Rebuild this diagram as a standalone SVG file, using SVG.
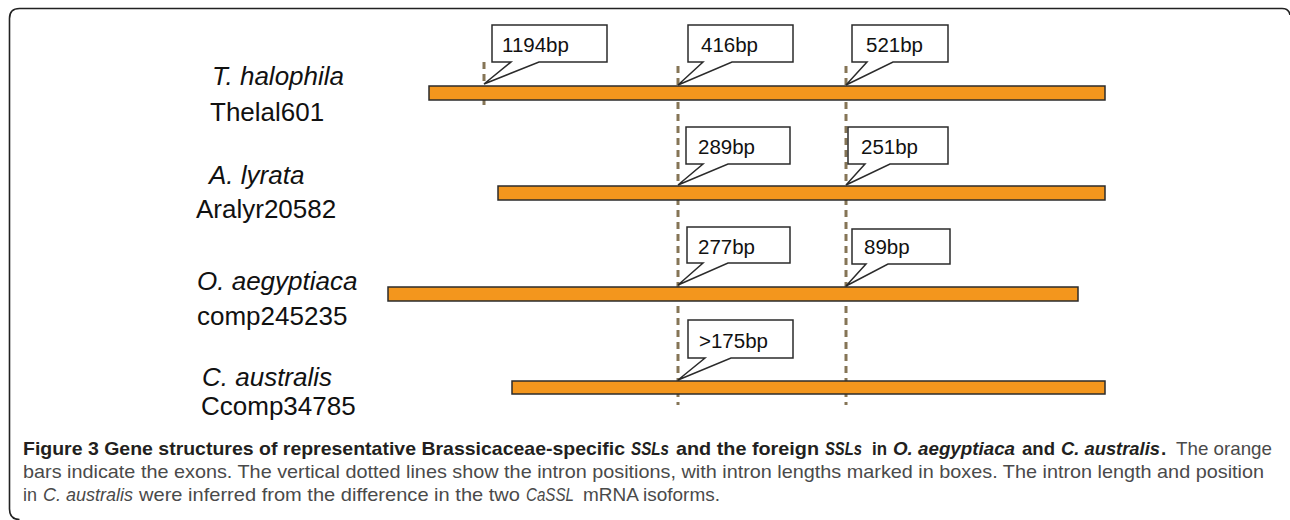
<svg xmlns="http://www.w3.org/2000/svg" width="1290" height="520" viewBox="0 0 1290 520">
<style>
.bar{fill:#F3961D;stroke:#2b2b2b;stroke-width:1.5}
.intron{stroke:#857556;stroke-width:3;stroke-dasharray:7 5;fill:none}
.call{fill:#fff;stroke:#2b2b2b;stroke-width:1.5;stroke-linejoin:miter}
.lbl{font-family:"Liberation Sans",Arial,sans-serif;font-size:20.5px;fill:#111}
.sp{font-family:"Liberation Sans",Arial,sans-serif;font-size:26px;fill:#111}
.it{font-style:italic}
.cap{font-family:"Liberation Sans",Arial,sans-serif;font-size:19px;fill:#4a4a4a}
.b{font-weight:bold;fill:#231f20}
</style>
<rect width="1290" height="520" fill="#fff"/>
<path d="M 1290 15 Q 1289 8.5 1282 8.5 L 19.5 8.5 Q 9.5 8.5 9.5 18.5 L 9.5 509 Q 9.5 519.5 19.5 519.5" fill="none" stroke="#222" stroke-width="1.6"/>

<g id="connectors">
<line class="intron" x1="484" y1="62" x2="484" y2="110"/>
<line class="intron" x1="678" y1="66" x2="678" y2="405"/>
<line class="intron" x1="846" y1="66" x2="846" y2="405"/>
</g>

<g id="row-thalophila">
<text class="sp it" x="212" y="85">T. halophila</text>
<text class="sp" x="210" y="121">Thelal601</text>
<rect class="bar" x="429" y="86" width="676" height="14"/>
</g>
<g id="row-alyrata">
<text class="sp it" x="209" y="184">A. lyrata</text>
<text class="sp" x="196" y="218">Aralyr20582</text>
<rect class="bar" x="498" y="186" width="607" height="14"/>
</g>
<g id="row-oaegyptiaca">
<text class="sp it" x="197" y="290">O. aegyptiaca</text>
<text class="sp" x="197" y="325">comp245235</text>
<rect class="bar" x="388" y="287" width="690" height="14"/>
</g>
<g id="row-caustralis">
<text class="sp it" x="202" y="386">C. australis</text>
<text class="sp" x="201" y="415">Ccomp34785</text>
<rect class="bar" x="512" y="381" width="593" height="13"/>
</g>

<g id="box-1194">
<path class="call" d="M 492 25 H 607 V 62 H 539 L 484 84 L 511 62 H 492 Z"/>
<text class="lbl" x="502" y="52">1194bp</text>
</g>
<g id="box-416">
<path class="call" d="M 688 25 H 793 V 62 H 732 L 678 85 L 703 62 H 688 Z"/>
<text class="lbl" x="701" y="52">416bp</text>
</g>
<g id="box-521">
<path class="call" d="M 852 25 H 948 V 62 H 893 L 846 85 L 867 62 H 852 Z"/>
<text class="lbl" x="866" y="52">521bp</text>
</g>
<g id="box-289">
<path class="call" d="M 686 127 H 790 V 164 H 728 L 678 185 L 703 164 H 686 Z"/>
<text class="lbl" x="698" y="154">289bp</text>
</g>
<g id="box-251">
<path class="call" d="M 848 127 H 948 V 164 H 890 L 846 185 L 865 164 H 848 Z"/>
<text class="lbl" x="861" y="154">251bp</text>
</g>
<g id="box-277">
<path class="call" d="M 687 227 H 790 V 263 H 728 L 678 285 L 703 263 H 687 Z"/>
<text class="lbl" x="698" y="254">277bp</text>
</g>
<g id="box-89">
<path class="call" d="M 852 229 H 950 V 264 H 888 L 846 286 L 866 264 H 852 Z"/>
<text class="lbl" x="864" y="254">89bp</text>
</g>
<g id="box-175">
<path class="call" d="M 688 320 H 793 V 358 H 731 L 678 380 L 705 358 H 688 Z"/>
<text class="lbl" x="699" y="348">&gt;175bp</text>
</g>

<g id="caption">
<text class="cap b" x="23" y="455" textLength="602" lengthAdjust="spacingAndGlyphs">Figure 3 Gene structures of representative Brassicaceae-specific</text>
<text class="cap b it" x="631" y="455" textLength="38" lengthAdjust="spacingAndGlyphs">SSLs</text>
<text class="cap b" x="676" y="455" textLength="143" lengthAdjust="spacingAndGlyphs">and the foreign</text>
<text class="cap b it" x="825" y="455" textLength="37" lengthAdjust="spacingAndGlyphs">SSLs</text>
<text class="cap b" x="872" y="455" textLength="15" lengthAdjust="spacingAndGlyphs">in</text>
<text class="cap b it" x="893" y="455" textLength="122" lengthAdjust="spacingAndGlyphs">O. aegyptiaca</text>
<text class="cap b" x="1022" y="455" textLength="33" lengthAdjust="spacingAndGlyphs">and</text>
<text class="cap b it" x="1061" y="455" textLength="99" lengthAdjust="spacingAndGlyphs">C. australis</text>
<text class="cap b" x="1161" y="455">.</text>
<text class="cap" x="1176" y="455" textLength="96" lengthAdjust="spacingAndGlyphs">The orange</text>
<text class="cap" x="23" y="478" textLength="1241" lengthAdjust="spacingAndGlyphs">bars indicate the exons. The vertical dotted lines show the intron positions, with intron lengths marked in boxes. The intron length and position</text>
<text class="cap" x="23" y="501" textLength="14" lengthAdjust="spacingAndGlyphs">in</text>
<text class="cap it" x="43" y="501" textLength="90" lengthAdjust="spacingAndGlyphs">C. australis</text>
<text class="cap" x="139" y="501" textLength="381" lengthAdjust="spacingAndGlyphs">were inferred from the difference in the two</text>
<text class="cap it" x="526" y="501" textLength="48" lengthAdjust="spacingAndGlyphs">CaSSL</text>
<text class="cap" x="583" y="501" textLength="137" lengthAdjust="spacingAndGlyphs">mRNA isoforms.</text>
</g>
</svg>
